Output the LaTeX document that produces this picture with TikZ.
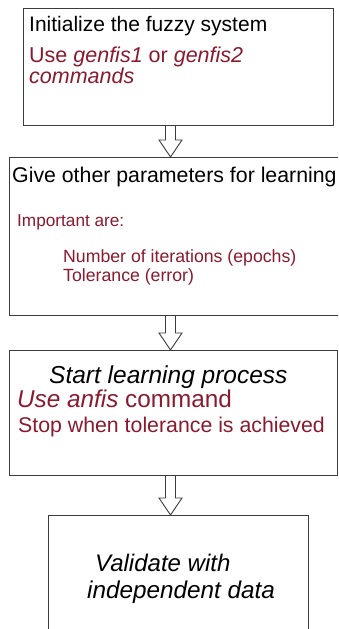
\documentclass[tikz,border=0pt]{standalone}
\usepackage{fontspec}
\setmainfont{Liberation Sans}
\usetikzlibrary{calc}
\definecolor{dred}{RGB}{139,26,46}
\definecolor{lineg}{RGB}{60,60,60}
\tikzset{
  box/.style={draw=lineg, line width=1pt, fill=white, inner sep=0pt, anchor=north west},
  txt/.style={inner sep=0pt, anchor=base west},
  blk/.style={draw=lineg, line width=0.9pt, fill=white, line join=miter}
}
\newcommand\blockarrow[2]{%
  \draw[blk] let \p1=(#1), \p2=(#2) in
    (\x1-5pt,\y1) -- (\x1-5pt,\y2+17pt) -- (\x1-11.5pt,\y2+17pt) -- (\x2,\y2)
    -- (\x1+11.5pt,\y2+17pt) -- (\x1+5pt,\y2+17pt) -- (\x1+5pt,\y1);}
\begin{document}
\begin{tikzpicture}[x=1pt,y=-1pt]
\useasboundingbox (0,0) rectangle (338,629);
\clip (0,0) rectangle (338,629);
\fill[white] (0,0) rectangle (338,629);
% boxes
\node[box, minimum width=310pt, minimum height=117pt] (b1) at (23,8) {};
\node[box, minimum width=340pt, minimum height=158pt] (b2) at (9,157) {};
\node[box, minimum width=328pt, minimum height=125pt] (b3) at (9,350) {};
\node[box, minimum width=260pt, minimum height=130pt] (b4) at (48,515) {};
\coordinate (ax) at (170.5,0);
% arrows
\blockarrow{b1.south -| ax}{b2.north -| ax}
\blockarrow{b2.south -| ax}{b3.north -| ax}
\blockarrow{b3.south -| ax}{b4.north -| ax}
% texts box 1
\node[txt, font=\fontsize{21}{25}\selectfont] (t1) at (29,31) {Initialize the fuzzy system};
\node[txt, font=\fontsize{21.5}{25}\selectfont, text=dred] (t2) at (29,62) {Use \textit{genfis1} or \textit{genfis2}};
\node[txt, font=\fontsize{21.5}{25}\selectfont, text=dred] (t3) at (29,83) {\textit{commands}};
% texts box 2
\node[txt, font=\fontsize{21.3}{25}\selectfont] (t4) at (12,182) {Give other parameters for learning};
\node[txt, font=\fontsize{17.2}{20}\selectfont, text=dred] (t5) at (17,226) {Important are:};
\node[txt, font=\fontsize{17.7}{20}\selectfont, text=dred] (t6) at (63,262) {Number of iterations (epochs)};
\node[txt, font=\fontsize{17.7}{20}\selectfont, text=dred] (t7) at (63,281) {Tolerance (error)};
% texts box 3
\node[txt, font=\fontsize{24.5}{28}\selectfont\itshape] (t8) at (49,383) {Start learning process};
\node[txt, font=\fontsize{24.3}{28}\selectfont, text=dred] (t9) at (17,407) {\textit{Use anfis} command};
\node[txt, font=\fontsize{21.3}{25}\selectfont, text=dred] (t10) at (18,432) {Stop when tolerance is achieved};
% texts box 4
\node[txt, font=\fontsize{24}{28}\selectfont\itshape] (t11) at (95,571) {Validate with};
\node[txt, font=\fontsize{24.3}{28}\selectfont\itshape] (t12) at (87,598) {independent data};
\end{tikzpicture}
\end{document}
